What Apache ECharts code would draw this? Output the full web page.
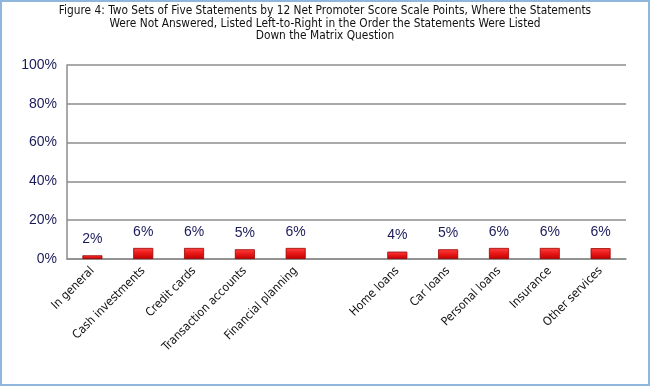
<!DOCTYPE html>
<html><head><meta charset="utf-8">
<script src="https://cdn.jsdelivr.net/npm/echarts@6/dist/echarts.min.js"></script>
<style>
html,body{margin:0;padding:0;background:#fff;}
#wrap{position:absolute;left:0;top:0;width:646px;height:382px;border:2px solid #8fb6dc;}
#c{width:646px;height:382px;}
</style></head><body>
<div id="wrap"><div id="c"></div></div>
<script>
const titleText = 'Figure 4: Two Sets of Five Statements by 12 Net Promoter Score Scale Points, Where the Statements\nWere Not Answered, Listed Left-to-Right in the Order the Statements Were Listed\nDown the Matrix Question';
const categories = ['In general','Cash investments','Credit cards','Transaction accounts','Financial planning','','Home loans','Car loans','Personal loans','Insurance','Other services'];
const values = [1.9, 5.7, 5.7, 5.0, 5.7, null, 3.8, 5.0, 5.7, 5.7, 5.6];
const labels = ['2%','6%','6%','5%','6%','','4%','5%','6%','6%','6%'];
const yTicks = [0,20,40,60,80,100];

const condensed = '"DejaVu Sans Condensed","Liberation Sans Narrow",sans-serif';
const chart = echarts.init(document.getElementById('c'));
chart.setOption({
  animation:false,
  title:{text:titleText,left:'center',top:3,padding:0,textStyle:{fontFamily:condensed,fontSize:11.8,fontWeight:'normal',color:'#111',lineHeight:12.5}},
  grid:{left:65,right:22,top:63,bottom:125},
  xAxis:{type:'category',data:categories,
    axisLine:{show:true,lineStyle:{color:'#8c8c8c',width:1.5}},
    axisTick:{show:false},
    axisLabel:{interval:0,rotate:45,margin:10,fontFamily:condensed,fontSize:12,color:'#111'}},
  yAxis:{type:'value',min:0,max:100,interval:20,
    axisLine:{show:true,lineStyle:{color:'#8c8c8c',width:1.5}},
    axisTick:{show:false},
    splitLine:{lineStyle:{color:'#8c8c8c',width:1.5}},
    axisLabel:{formatter:v=>yTicks.includes(v)?v+'%':'',fontFamily:'"Liberation Sans",Arial,sans-serif',fontSize:14,color:'#1b1b5a',margin:10}},
  series:[{type:'bar',data:values,barWidth:20,
    itemStyle:{color:new echarts.graphic.LinearGradient(0,0,0,1,[{offset:0,color:'#ff4040'},{offset:0.5,color:'#e81818'},{offset:1,color:'#c00000'}]),borderColor:'#9a0000',borderWidth:0.8},
    label:{show:true,position:'top',distance:9,formatter:p=>labels[p.dataIndex],fontFamily:'"Liberation Sans",Arial,sans-serif',fontSize:14,color:'#1b1b5a'}}]
});
</script></body></html>
